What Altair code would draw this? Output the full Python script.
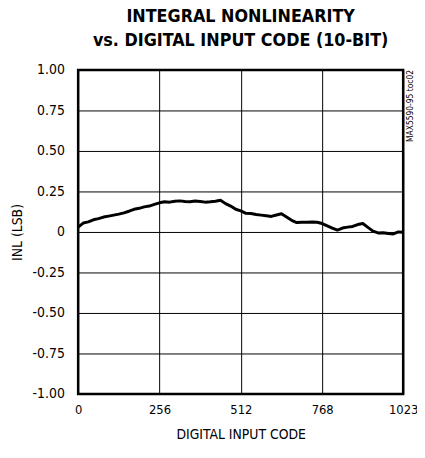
import altair as alt
import pandas as pd

codes = [0, 16, 32, 48, 64, 80, 96, 112, 128, 144, 160, 176, 192, 208, 224, 240,
         256, 272, 288, 304, 320, 336, 352, 368, 384, 400, 416, 432, 448, 464, 480, 496,
         512, 528, 544, 560, 576, 592, 608, 624, 640, 656, 672, 688, 704, 720, 736, 752,
         768, 784, 800, 816, 832, 848, 864, 880, 896, 912, 928, 944, 960, 976, 992, 1008, 1023]
inl = [0.030, 0.055, 0.062, 0.075, 0.082, 0.092, 0.098, 0.104, 0.110, 0.118, 0.128, 0.140, 0.146, 0.155, 0.160, 0.170,
       0.180, 0.186, 0.184, 0.190, 0.192, 0.188, 0.186, 0.191, 0.188, 0.184, 0.186, 0.190, 0.196, 0.175, 0.160, 0.140,
       0.130, 0.115, 0.114, 0.108, 0.104, 0.100, 0.096, 0.105, 0.112, 0.092, 0.072, 0.058, 0.060, 0.060, 0.062, 0.060,
       0.052, 0.038, 0.024, 0.012, 0.024, 0.030, 0.034, 0.046, 0.052, 0.028, 0.005, -0.006, -0.005, -0.010, -0.012, 0.000, -0.002]

x_ticks = [0, 256, 512, 768, 1023]
y_ticks = [-1.0, -0.75, -0.5, -0.25, 0.0, 0.25, 0.5, 0.75, 1.0]
title_lines = ["INTEGRAL NONLINEARITY", "vs. DIGITAL INPUT CODE (10-BIT)"]
note = ["MAX5590-95 toc02"]

FONT = "DejaVu Sans Condensed, Liberation Sans, sans-serif"

df = pd.DataFrame({"code": codes, "inl": inl})

x_enc = alt.X("code:Q", scale=alt.Scale(domain=[0, 1023], nice=False, zero=False),
              axis=alt.Axis(values=x_ticks, title="DIGITAL INPUT CODE", grid=True,
                            ticks=False, labelPadding=10, titlePadding=11,
                            labelFontSize=13,
                            labelExpr="toString(datum.value)",
                            labelFlush=False, labelOverlap=False, domain=False))
y_enc = alt.Y("inl:Q", scale=alt.Scale(domain=[-1, 1], nice=False),
              axis=alt.Axis(values=y_ticks, title="INL (LSB)", grid=True, ticks=False,
                            labelPadding=14, titlePadding=8,
                            labelExpr="datum.value == 0 ? '0' : replace(format(datum.value, '.2f'), '\u2212', '-')",
                            domain=False))

line = alt.Chart(df).mark_line(color="black", strokeWidth=3.0, strokeJoin="round").encode(
    x=x_enc, y=y_enc)

note_df = pd.DataFrame({"t": note})
note_text = alt.Chart(note_df).mark_text(angle=270, align="right", baseline="middle",
                                         font=FONT, fontSize=8.5, color="black").encode(
    x=alt.value(336), y=alt.value(0), text="t:N")

chart = alt.layer(line, note_text).properties(
    width=329, height=328,
    autosize=alt.AutoSizeParams(type="none"),
    padding={"left": 71, "top": 60, "right": 14, "bottom": 54},
    title=alt.TitleParams(text=title_lines, font=FONT, fontSize=18, fontWeight="bold",
                          anchor="middle", color="black", offset=13, lineHeight=25),
).configure_view(stroke="black", strokeWidth=2.5).configure_axis(
    gridColor="black", gridWidth=1, gridOpacity=1,
    labelFont=FONT, labelFontSize=14, labelColor="black",
    titleFont=FONT, titleFontSize=14, titleFontWeight="normal", titleColor="black",
)

chart.save("out.html", embed_options={"renderer": "svg", "actions": False})
